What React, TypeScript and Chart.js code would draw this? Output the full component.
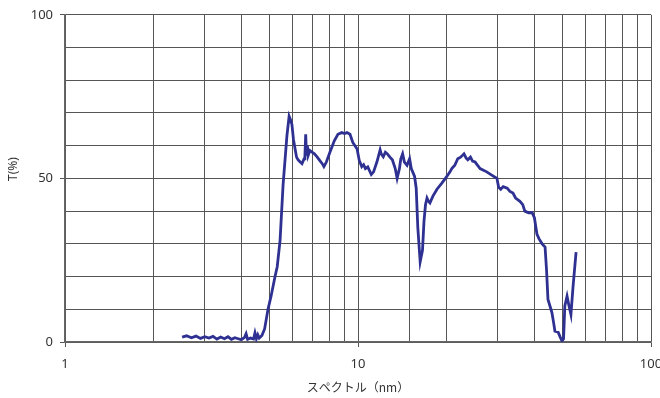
import React, { useEffect, useRef } from 'react';
import { Chart, registerables } from 'chart.js';
Chart.register(...registerables);

const wavelengthNm = [
  2.51, 2.6, 2.7, 2.8, 2.9, 3.0, 3.1, 3.2, 3.3, 3.4, 3.5, 3.6, 3.7, 3.8, 3.9, 4.0, 4.1, 4.15, 4.2, 4.3,
  4.4, 4.45, 4.5, 4.55, 4.6, 4.7, 4.8, 4.93, 5.05, 5.21, 5.3, 5.42, 5.55, 5.72, 5.82, 5.88, 5.95, 6.02, 6.1, 6.17,
  6.24, 6.35, 6.44, 6.55, 6.59, 6.63, 6.67, 6.72, 6.76, 6.85, 6.97, 7.1, 7.25, 7.4, 7.55, 7.65, 7.8, 8.02, 8.3, 8.54,
  8.8, 9.0, 9.17, 9.39, 9.6, 9.93, 10.1, 10.3, 10.45, 10.6, 10.8, 11.1, 11.3, 11.6, 11.9, 12.0, 12.2, 12.4, 12.6, 12.85,
  13.1, 13.4, 13.6, 13.85, 14.0, 14.2, 14.4, 14.7, 15.0, 15.2, 15.6, 15.8, 16.0, 16.3, 16.6, 16.8, 17.0, 17.2, 17.4, 17.6,
  18.0, 18.6, 19.3, 20.1, 20.6, 20.9, 21.4, 21.9, 22.4, 23.0, 23.4, 23.7, 24.2, 24.6, 25.1, 25.6, 26.1, 26.8, 27.5, 28.6,
  29.8, 30.2, 30.7, 31.3, 32.3, 33.0, 33.8, 34.5, 35.7, 36.5, 37.1, 38.2, 39.3, 40.0, 40.8, 41.5, 42.5, 43.5, 44.0, 44.5,
  45.2, 45.9, 46.5, 47.0, 48.2, 49.0, 49.7, 50.3, 50.8, 51.7, 52.5, 53.3, 54.2, 55.5,
];

const transmittance = [
  1.5, 1.9, 1.3, 1.8, 1.1, 1.6, 1.2, 1.7, 0.9, 1.5, 1.0, 1.6, 0.8, 1.3, 1.0, 0.7, 1.4, 2.5, 0.8, 1.2,
  0.9, 2.8, 1.0, 2.2, 1.2, 2.0, 4, 10, 14, 20, 23, 31, 48, 63, 69, 68, 66.5, 62, 59, 56.5,
  55.7, 55, 54.5, 56, 57, 63.5, 57, 60, 57, 58.5, 58, 57.5, 56.6, 55.5, 54.5, 53.6, 55, 58, 61.5, 63.5,
  64, 63.7, 64, 63.5, 61, 59, 55.5, 53.6, 54.2, 53, 53.5, 51.2, 52, 55, 58.7, 57.5, 56.6, 58, 57.5, 56.5,
  55.7, 53, 50, 53, 56, 57.5, 55, 54, 56, 53, 50.6, 47, 35, 24.5, 28, 37, 42, 44, 43, 42.5,
  44.5, 46.7, 48.5, 50.6, 52, 53, 54, 56, 56.5, 57.5, 56.2, 55.7, 56.5, 55.3, 55, 54, 53, 52.5, 52, 51,
  50, 47.3, 46.7, 47.5, 47, 46, 45.5, 44, 43, 42, 40, 39.5, 39.5, 38, 33, 31.5, 30, 29, 22, 13,
  11, 9, 6, 3.3, 3, 1.5, 0.3, 1, 11, 14, 11, 8.4, 17, 27.5,
];

const xTickLabels = [1, 10, 100];
const yTickLabels = [0, 50, 100];

const isIn = (list: number[], v: number) => list.some((t) => Math.abs(t - v) < 1e-6);

export default function App() {
  const ref = useRef<HTMLCanvasElement>(null);
  useEffect(() => {
    const points = wavelengthNm.map((x, i) => ({ x, y: transmittance[i] }));
    const chart = new Chart(ref.current!, {
      type: 'line',
      data: {
        datasets: [
          {
            data: points,
            borderColor: '#2E3192',
            borderWidth: 2.8,
            pointRadius: 0,
            tension: 0,
            fill: false,
          },
        ],
      },
      options: {
        animation: false,
        responsive: false,
        maintainAspectRatio: false,
        layout: { padding: { top: 11, right: 9, left: 0, bottom: 0 } },
        plugins: { legend: { display: false }, tooltip: { enabled: false } },
        scales: {
          x: {
            type: 'logarithmic',
            min: 1,
            max: 100,
            afterFit: (s: any) => {
              s.height = 56;
              s.paddingLeft = 0;
              s.paddingRight = 0;
            },
            grid: {
              color: '#555',
              lineWidth: 1,
              tickLength: 5,
              tickColor: (ctx: any) => (isIn(xTickLabels, ctx.tick?.value) ? '#555' : 'rgba(0,0,0,0)'),
            },
            border: { color: '#666', width: 1.5 },
            ticks: {
              autoSkip: false,
              maxRotation: 0,
              padding: 9,
              color: '#333',
              font: { family: 'Noto Sans', size: 13 },
              callback: (v: any) => (isIn(xTickLabels, Number(v)) ? String(Number(v)) : ''),
            },
            title: {
              display: true,
              text: 'スペクトル（nm）',
              color: '#333',
              font: { family: 'Noto Sans CJK JP', size: 12 },
              padding: { top: 0, bottom: 3 },
            },
          },
          y: {
            min: 0,
            max: 100,
            afterFit: (s: any) => {
              s.width = 65;
            },
            grid: {
              color: '#555',
              lineWidth: 1,
              tickLength: 5,
              tickColor: (ctx: any) => (isIn(yTickLabels, ctx.tick?.value) ? '#555' : 'rgba(0,0,0,0)'),
            },
            border: { color: '#666', width: 1.5 },
            ticks: {
              stepSize: 10,
              padding: 7,
              color: '#333',
              font: { family: 'Noto Sans', size: 13 },
              callback: (v: any) => (isIn(yTickLabels, Number(v)) ? String(v) : ''),
            },
            title: {
              display: true,
              text: '      T(%)',
              color: '#333',
              font: { family: 'Noto Sans', size: 12 },
              padding: { top: 6, bottom: 0 },
            },
          },
        },
      },
    });
    return () => chart.destroy();
  }, []);
  return (
    <div style={{ position: 'absolute', left: 0, top: 0, width: 660, height: 398 }}>
      <canvas ref={ref} width={660} height={398} />
    </div>
  );
}
